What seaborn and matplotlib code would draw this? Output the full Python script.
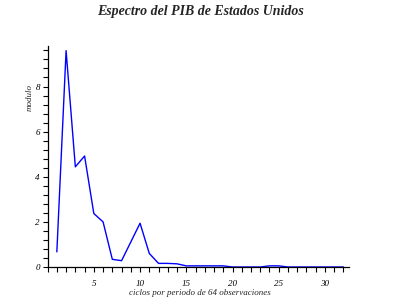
import numpy as np
import pandas as pd
import seaborn as sns
import matplotlib
matplotlib.use("Agg")
import matplotlib.pyplot as plt
from matplotlib.ticker import MultipleLocator

ciclos = list(range(1, 33))
modulo = [0.67, 9.59, 4.44, 4.92, 2.37, 2.0, 0.34, 0.28, 1.11, 1.94,
          0.6, 0.16, 0.16, 0.14, 0.05, 0.05, 0.05, 0.05, 0.05, 0.0,
          0.0, 0.0, 0.0, 0.05, 0.05, 0.0, 0.0, 0.0, 0.0, 0.0,
          0.0, 0.0]
x_ticks = [5, 10, 15, 20, 25, 30]
y_ticks = [0, 2, 4, 6, 8]

df = pd.DataFrame({"ciclos": ciclos, "modulo": modulo})

sns.set_style("white")
plt.rcParams['font.family'] = ['Liberation Serif', 'DejaVu Serif']

fig = plt.figure(figsize=(4, 3), dpi=100)
ax = fig.add_axes([0.119, 0.11, 0.7535, 0.737])
sns.lineplot(data=df, x="ciclos", y="modulo", ax=ax, color=(0, 0, 1), linewidth=1)

ax.set_xlim(0, 32.6)
ax.set_ylim(0, 9.8)
ax.set_xticks(x_ticks)
ax.set_yticks(y_ticks)
ax.xaxis.set_minor_locator(MultipleLocator(1))
ax.yaxis.set_minor_locator(MultipleLocator(0.4))
ax.tick_params(axis='both', which='both', direction='out', length=3.5, width=0.8,
               colors='black', labelsize=6.5)
ax.tick_params(axis='x', which='both', bottom=True, pad=6)
ax.tick_params(axis='y', which='both', left=True, pad=2)
for lab in ax.get_xticklabels() + ax.get_yticklabels():
    lab.set_fontstyle('italic')

for s in ['top', 'right']:
    ax.spines[s].set_visible(False)
for s in ['left', 'bottom']:
    ax.spines[s].set_color('black')
    ax.spines[s].set_linewidth(0.9)
    ax.spines[s].set_zorder(5)

ax.set_xlabel("")
ax.set_ylabel("")
fig.text(0.5, 0.963, "Espectro del PIB de Estados Unidos", ha='center', va='center',
         fontsize=10, fontweight='bold', fontstyle='italic')
fig.text(0.5, 0.022, "ciclos por periodo de 64 observaciones", ha='center', va='center',
         fontsize=6.5, fontstyle='italic')
fig.text(0.075, 0.675, "modulo", ha='center', va='center', rotation=90,
         fontsize=6.5, fontstyle='italic')

fig.savefig("out.png", dpi=100, facecolor='white')
